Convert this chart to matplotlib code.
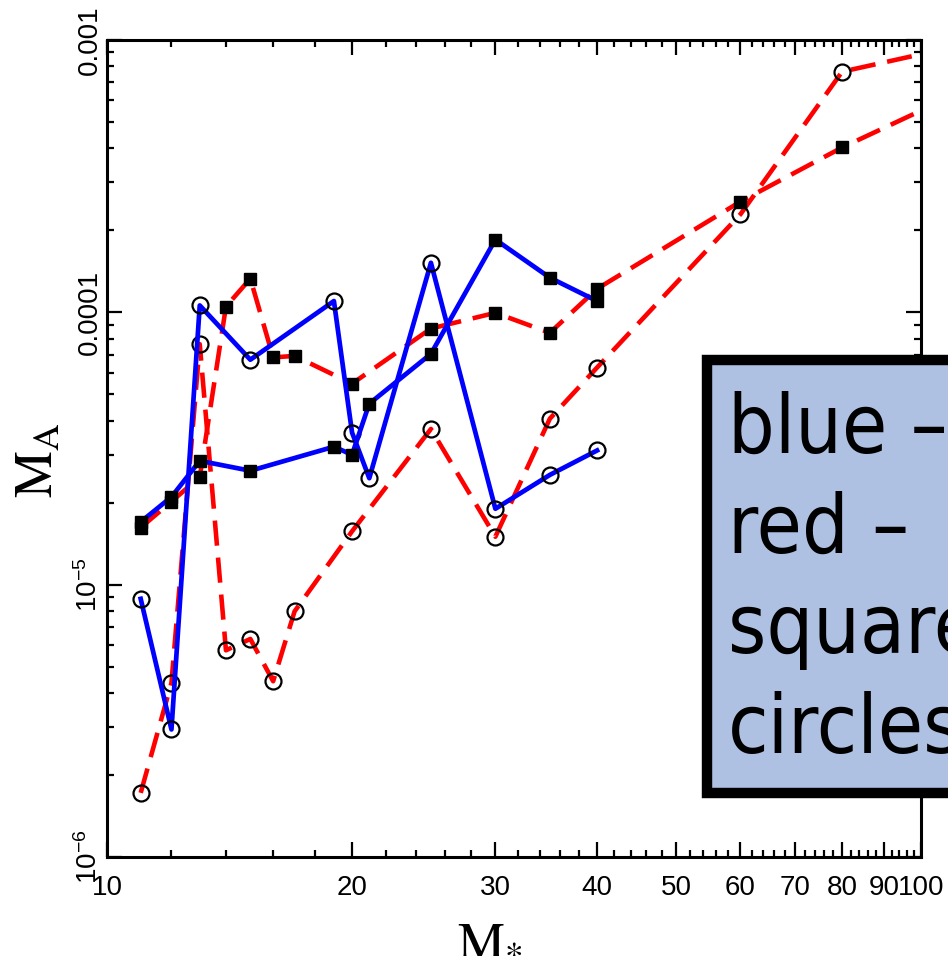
'''
Accretion mass vs stellar mass, log-log plot
'''
import matplotlib
matplotlib.use("Agg")
from matplotlib import pyplot as plt
from matplotlib.patches import Rectangle
from matplotlib.ticker import FixedLocator, NullFormatter

plt.rcParams["mathtext.rm"] = "Liberation Sans"
plt.rcParams["mathtext.it"] = "Liberation Sans:italic"
plt.rcParams["mathtext.bf"] = "Liberation Sans:bold"

# Data
mass_blue_sq = [11, 12, 13, 15, 19, 20, 21, 25, 30, 35, 40]
ma_blue_sq = [1.70e-5, 2.10e-5, 2.85e-5, 2.62e-5, 3.21e-5, 3.00e-5,
              4.62e-5, 7.04e-5, 1.85e-4, 1.34e-4, 1.10e-4]

mass_blue_ci = [11, 12, 13, 15, 19, 20, 21, 25, 30, 35, 40]
ma_blue_ci = [8.87e-6, 2.94e-6, 1.06e-4, 6.70e-5, 1.10e-4, 3.62e-5,
              2.46e-5, 1.52e-4, 1.90e-5, 2.53e-5, 3.11e-5]

mass_red_sq = [11, 12, 13, 14, 15, 16, 17, 20, 25, 30, 35, 40, 60, 80, 120]
ma_red_sq = [1.62e-5, 2.02e-5, 2.48e-5, 1.05e-4, 1.33e-4, 6.83e-5, 6.92e-5,
             5.47e-5, 8.72e-5, 9.96e-5, 8.41e-5, 1.22e-4, 2.55e-4, 4.03e-4, 7.10e-4]

mass_red_ci = [11, 12, 13, 14, 15, 16, 17, 20, 25, 30, 35, 40, 60, 80, 120]
ma_red_ci = [1.72e-6, 4.36e-6, 7.64e-5, 5.74e-6, 6.32e-6, 4.42e-6, 7.98e-6,
             1.57e-5, 3.73e-5, 1.50e-5, 4.07e-5, 6.27e-5, 2.29e-4, 7.65e-4, 1.00e-3]

x_major = [10, 20, 30, 40, 50, 60, 70, 80, 90, 100]
x_major_labels = ["10", "20", "30", "40", "50", "60", "70", "80", "90", "100"]
y_major = [1e-6, 1e-5, 1e-4, 1e-3]
y_major_labels = [r"$10^{-6}$", r"$10^{-5}$", "0.0001", "0.001"]
legend_lines = ["blue \u2013", "red \u2013", "squares", "circles"]

W, H = 948, 968
fig = plt.figure(figsize=(W / 100, H / 100), dpi=100)
ax = fig.add_axes([107 / W, 1 - 857 / H, 814 / W, 817 / H])

# Red dashed lines underneath, blue solid on top
ax.plot(mass_red_ci, ma_red_ci, color="red", lw=3.3, dashes=(5.5, 2.6),
        marker="o", ms=11.5, mfc="none", mec="black", mew=1.6, zorder=2)
ax.plot(mass_red_sq, ma_red_sq, color="red", lw=3.3, dashes=(5.5, 2.6),
        marker="s", ms=8, mfc="black", mec="black", zorder=2)
ax.plot(mass_blue_ci, ma_blue_ci, color="blue", lw=3.4, ls="-",
        marker="o", ms=11.5, mfc="none", mec="black", mew=1.6, zorder=3)
ax.plot(mass_blue_sq, ma_blue_sq, color="blue", lw=3.4, ls="-",
        marker="s", ms=8, mfc="black", mec="black", zorder=3)

ax.set_xscale("log")
ax.set_yscale("log")
ax.set_xlim(10, 100)
ax.set_ylim(1e-6, 1e-3)

# Ticks
tick_font = {"family": ["Liberation Sans", "DejaVu Sans"], "size": 20}
ax.xaxis.set_major_locator(FixedLocator(x_major))
ax.xaxis.set_minor_locator(FixedLocator([v for v in range(12, 100, 2) if v % 10]))
ax.xaxis.set_minor_formatter(NullFormatter())
ax.set_xticklabels(x_major_labels, fontdict=tick_font)

ax.yaxis.set_major_locator(FixedLocator(y_major))
y_minor = [m * 10.0 ** e for e in range(-6, -3) for m in range(2, 10)]
ax.yaxis.set_minor_locator(FixedLocator(y_minor))
ax.yaxis.set_minor_formatter(NullFormatter())
ax.set_yticklabels(y_major_labels, fontdict=tick_font, rotation=90, va="center")
for lab in ax.get_yticklabels():
    lab.set_math_fontfamily("custom")

ax.tick_params(which="both", direction="in", top=True, right=True, width=1.6)
ax.tick_params(which="major", length=11)
ax.tick_params(which="minor", length=5)
ax.tick_params(axis="x", pad=13)
ax.tick_params(axis="y", pad=3)
for sp in ax.spines.values():
    sp.set_linewidth(2.2)

# Axis labels
ax.set_xlabel(r"$\mathrm{M_{*}}$", fontsize=38, math_fontfamily="stix")
ax.xaxis.set_label_coords((490 - 107) / 814, -(912 - 857) / 817)
ax.set_ylabel(r"$\mathrm{M_{A}}$", fontsize=38, math_fontfamily="stix")
ax.yaxis.set_label_coords(-(107 - 64) / 814, (857 - 460) / 817)

# Legend box, running off the right edge of the figure
box = Rectangle((707 / W, 1 - 793 / H), 400 / W, (793 - 360) / H,
                transform=fig.transFigure, facecolor="#afc1e3",
                edgecolor="black", linewidth=7.5, zorder=10)
fig.add_artist(box)
for i, line in enumerate(legend_lines):
    fig.text(728 / W, 1 - (453 + 100 * i) / H, line, fontsize=59,
             family="DejaVu Sans", fontstretch="condensed",
             va="baseline", ha="left", zorder=11)

fig.savefig("out.png", dpi=100)
